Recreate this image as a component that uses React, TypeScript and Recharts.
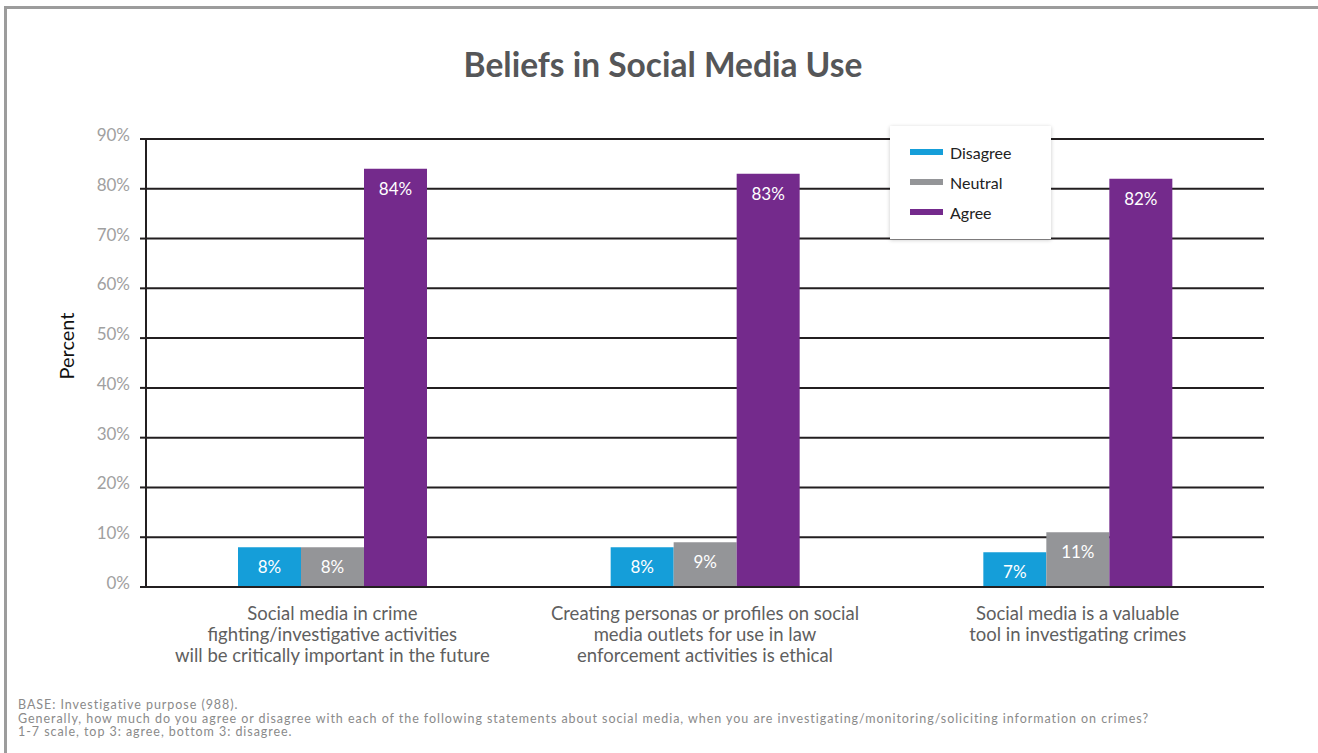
import React from 'react'
import { BarChart, Bar, XAxis, YAxis, CartesianGrid, LabelList, Label } from 'recharts'

const categories = [
    ['Social media in crime', 'fighting/investigative activities', 'will be critically important in the future'],
    ['Creating personas or profiles on social', 'media outlets for use in law', 'enforcement activities is ethical'],
    ['Social media is a valuable', 'tool in investigating crimes'],
]
const disagree = [8, 8, 7]
const neutral = [8, 9, 11]
const agree = [84, 83, 82]
const yTicks = [0, 10, 20, 30, 40, 50, 60, 70, 80, 90]
const footnotes = [
    'BASE: Investigative purpose (988).',
    'Generally, how much do you agree or disagree with each of the following statements about social media, when you are investigating/monitoring/soliciting information on crimes?',
    '1-7 scale, top 3: agree, bottom 3: disagree.',
]

const series = [
    { key: 'disagree', name: 'Disagree', color: '#159ed9' },
    { key: 'neutral', name: 'Neutral', color: '#949598' },
    { key: 'agree', name: 'Agree', color: '#742a8c' },
]

const data = categories.map((lines, i) => ({
    name: i,
    lines,
    disagree: disagree[i],
    neutral: neutral[i],
    agree: agree[i],
}))

const FONT = 'Lato, "Open Sans", sans-serif'

const CategoryTick = (props: any) => {
    const { x, y, payload } = props
    const lines: string[] = categories[payload.value] || []
    return (
        <text x={x} y={y} textAnchor="middle" fill="#5f5f5f" fontSize={18.5} fontFamily={FONT}>
            {lines.map((l, i) => (
                <tspan key={i} x={x} dy={i === 0 ? 25 : 21}>{l}</tspan>
            ))}
        </text>
    )
}

// rotated axis title, a bit above the plot's middle like the original
const PercentLabel = (props: any) => {
    const vb = props.viewBox || { x: 0, y: 0, width: 0, height: 0 }
    const cx = vb.x + 66
    const cy = vb.y + vb.height / 2 - 17
    return (
        <text x={cx} y={cy} transform={`rotate(-90 ${cx} ${cy})`} textAnchor="middle" dominantBaseline="central"
            fill="#111" fontSize={20} fontFamily={FONT}>
            Percent
        </text>
    )
}

const LegendBox = () => (
    <div style={{
        position: 'absolute',
        left: 890,
        top: 126,
        background: '#fff',
        boxShadow: '0 1px 4px rgba(0,0,0,0.22)',
        width: 161,
        height: 113,
        boxSizing: 'border-box',
        paddingTop: 11,
        paddingLeft: 20,
        fontFamily: FONT,
    }}>
        {series.map(s => (
            <div key={s.key} style={{ display: 'flex', alignItems: 'center', height: 30 }}>
                <span style={{ width: 33, height: 6, background: s.color, display: 'inline-block', marginRight: 7 }} />
                <span style={{ fontSize: 16, color: '#222' }}>{s.name}</span>
            </div>
        ))}
    </div>
)

export default function App() {
    return (
        <div style={{ position: 'absolute', left: 0, top: 0, width: 1318, height: 753, background: '#fff', overflow: 'hidden' }}>
            <div style={{
                position: 'absolute', left: 4, top: 6, width: 1312, height: 760,
                borderLeft: '3px solid #9c9c9c', borderTop: '3px solid #9c9c9c', borderRight: '1px solid #e2e2e2',
            }} />
            <div style={{
                position: 'absolute', left: 0, top: 44, width: 1326, textAlign: 'center',
                fontFamily: FONT, fontWeight: 700, fontSize: 33.5, color: '#555658',
            }}>
                Beliefs in Social Media Use
            </div>
            <div style={{ position: 'absolute', left: 0, top: 0 }}>
                <BarChart
                    width={1318}
                    height={753}
                    data={data}
                    margin={{ top: 139, right: 54, left: 0, bottom: 0 }}
                    barGap={0}
                    barSize={63}
                >
                    <CartesianGrid vertical={false} stroke="#231f20" strokeWidth={2} />
                    <XAxis
                        dataKey="name"
                        axisLine={{ stroke: '#231f20', strokeWidth: 2 }}
                        tickLine={false}
                        tick={<CategoryTick />}
                        interval={0}
                        height={166}
                    />
                    <YAxis
                        width={146}
                        domain={[0, 90]}
                        ticks={yTicks}
                        interval={0}
                        tickFormatter={(v: number) => `${v}%`}
                        axisLine={{ stroke: '#231f20', strokeWidth: 2 }}
                        tickLine={{ stroke: '#231f20', strokeWidth: 2 }}
                        tickSize={6}
                        tickMargin={10}
                        tick={{ fill: '#a0a0a0', fontSize: 17, fontFamily: FONT, dy: -4 }}
                    >
                        <Label position="insideLeft" content={<PercentLabel />} />
                    </YAxis>
                    {series.map(s => (
                        <Bar key={s.key} dataKey={s.key} name={s.name} fill={s.color} isAnimationActive={false}>
                            <LabelList
                                dataKey={s.key}
                                position="insideTop"
                                offset={14}
                                formatter={(v: any) => `${v}%`}
                                style={{ fill: '#fff', fontSize: 17, fontFamily: FONT }}
                            />
                        </Bar>
                    ))}
                </BarChart>
            </div>
            <LegendBox />
            <div style={{
                position: 'absolute', left: 18, top: 698, fontFamily: FONT, fontSize: 12.5,
                letterSpacing: 0.95, lineHeight: '13.5px', color: '#8a8a8a',
            }}>
                {footnotes.map((f, i) => <div key={i}>{f}</div>)}
            </div>
        </div>
    )
}
